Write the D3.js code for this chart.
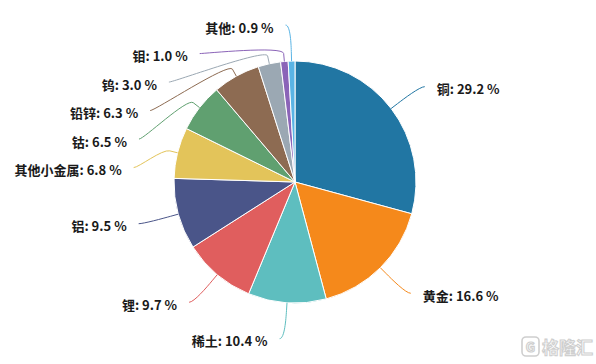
<!DOCTYPE html>
<html lang="zh">
<head>
<meta charset="UTF-8">
<title>Pie</title>
<script src="https://cdn.jsdelivr.net/npm/d3@7"></script>
<style>
  body { margin: 0; background: #fff; }
  svg { display: block; }
  .lbl { font-family: "Noto Sans CJK SC", sans-serif; font-size: 13px; font-weight: bold; fill: #1a1a1a; }
</style>
</head>
<body>
<svg width="596" height="364"></svg>
<script>
  // 品种
  var names = ['铜', '黄金', '稀土', '锂', '铝', '其他小金属', '钴', '铅锌', '钨', '钼', '其他'];
  // 占比 %
  var values = [29.2, 16.6, 10.4, 9.7, 9.5, 6.8, 6.5, 6.3, 3.0, 1.0, 0.9];
  var colors = ['#2176a3', '#f5891b', '#5ebebf', '#e05e5e', '#4a5589', '#e3c45a',
                '#60a070', '#8d6b52', '#9ba8b3', '#8b64b8', '#5ab4e5'];

  var cx = 295, cy = 182, r = 121;
  var dist = 36;   // 标签到饼边的距离
  var brk = 8;     // 引导线折点
  var gap = 28.5;  // 标签最小间距
  var minY = 24 - cy;

  var svg = d3.select('svg');
  var pie = d3.pie().sort(null).value(function (d) { return d; });
  var arcs = pie(values);
  var arc = d3.arc().innerRadius(0).outerRadius(r);

  var g = svg.append('g').attr('transform', 'translate(' + cx + ',' + cy + ')');

  g.selectAll('path.slice')
    .data(arcs)
    .enter()
    .append('path')
    .attr('class', 'slice')
    .attr('d', arc)
    .attr('fill', function (d, i) { return colors[i]; })
    .attr('stroke', '#fff')
    .attr('stroke-width', 1);

  // 标签位置
  var R = r + dist;
  var labels = arcs.map(function (d, i) {
    var a = (d.startAngle + d.endAngle) / 2;
    return { i: i, a: a, dir: Math.sin(a) < 0 ? -1 : 1, y: -Math.cos(a) * R };
  });

  // 两侧分别避让
  [-1, 1].forEach(function (dir) {
    var side = labels.filter(function (l) { return l.dir === dir; })
      .sort(function (a, b) { return a.y - b.y; });
    var prev = null;
    side.forEach(function (l) {
      var y = Math.max(l.y, minY);
      if (prev !== null) y = Math.max(y, prev + gap);
      l.y = y;
      prev = y;
    });
  });

  labels.forEach(function (l) {
    var s = Math.max(-1, Math.min(1, l.y / R));
    l.x = l.dir * (Math.cos(Math.asin(s)) * R + 5);
  });

  // 引导线
  g.selectAll('path.conn')
    .data(labels)
    .enter()
    .append('path')
    .attr('class', 'conn')
    .attr('fill', 'none')
    .attr('stroke', function (d) { return colors[d.i]; })
    .attr('stroke-width', 1)
    .attr('d', function (d) {
      var tx = Math.sin(d.a) * r, ty = -Math.cos(d.a) * r;
      var bx = Math.sin(d.a) * (r + brk), by = -Math.cos(d.a) * (r + brk);
      var p = d3.path();
      p.moveTo(d.x, d.y);
      p.bezierCurveTo(d.x - d.dir * 5, d.y, 2 * bx - tx, 2 * by - ty, bx, by);
      p.lineTo(tx, ty);
      return p.toString();
    });

  g.selectAll('text.lbl')
    .data(labels)
    .enter()
    .append('text')
    .attr('class', 'lbl')
    .attr('x', function (d) { return d.x + d.dir * 12; })
    .attr('y', function (d) { return d.y + 2; })
    .attr('dominant-baseline', 'central')
    .attr('text-anchor', function (d) { return d.dir < 0 ? 'end' : 'start'; })
    .text(function (d) { return names[d.i] + ': ' + values[d.i].toFixed(1) + ' %'; });

  // 水印
  var wm = svg.append('g').attr('opacity', 0.7);
  wm.append('rect')
    .attr('x', 522).attr('y', 337).attr('width', 17).attr('height', 19).attr('rx', 4)
    .attr('fill', 'none').attr('stroke', '#bbb').attr('stroke-width', 1.6);
  wm.append('text')
    .attr('x', 530.5).attr('y', 351.5).attr('text-anchor', 'middle')
    .style('font', 'bold 13px "Noto Sans CJK SC", sans-serif')
    .attr('fill', 'none').attr('stroke', '#bbb').attr('stroke-width', 1.2)
    .text('G');
  wm.append('text')
    .attr('x', 542).attr('y', 354)
    .style('font', 'bold 17px "Noto Sans CJK SC", sans-serif')
    .attr('fill', '#fff').attr('stroke', '#bbb').attr('stroke-width', 1.1)
    .text('格隆汇');
</script>
</body>
</html>
